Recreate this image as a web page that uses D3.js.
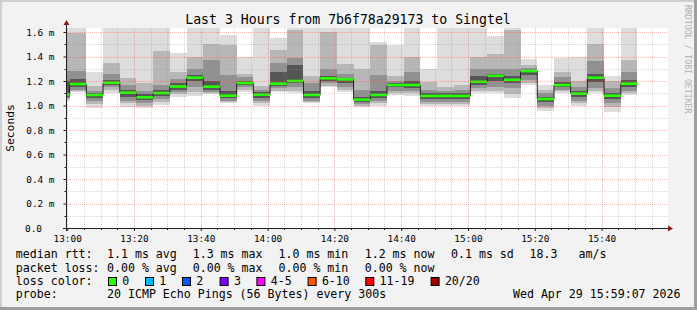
<!DOCTYPE html>
<html>
<head>
<meta charset="utf-8">
<script src="https://cdn.jsdelivr.net/npm/d3@7"></script>
<style>
  body { margin: 0; background: #fff; }
  svg text { font-family: "DejaVu Sans Mono", monospace; }
</style>
</head>
<body>
<svg id="chart" width="697" height="310"></svg>
<script>
    /*
    Smoke data, one entry per 5 minute step (first one is cut by the left edge).
    Values in milliseconds. 1.70 means "above the top of the chart".
     */
    var pingMax = [1.70, 1.70, 1.276, 1.70, 1.70, 1.70, 1.70, 1.43, 1.70, 1.70, 1.576, 1.40, 1.70, 1.55, 1.70, 1.70, 1.70, 1.70, 1.70, 1.52, 1.49, 1.70, 1.30, 1.70, 1.70, 1.70, 1.57, 1.70, 1.38, 1.167, 1.39, 1.395, 1.70, 1.24, 1.70];
    var pingHi2 = [1.59, 1.59, 1.16, 1.344, 1.227, 1.18, 1.445, 1.27, 1.40, 1.50, 1.49, 1.26, 1.16, 1.45, 1.62, 1.24, 1.60, 1.34, 1.30, 1.49, 1.24, 1.40, 1.19, 1.15, 1.17, 1.40, 1.42, 1.62, 1.33, 1.13, 1.27, 1.20, 1.50, 1.20, 1.37];
    var pingHi3 = [1.28, 1.28, 1.12, 1.26, 1.17, 1.12, 1.17, 1.22, 1.30, 1.37, 1.25, 1.23, 1.13, 1.35, 1.39, 1.18, 1.30, 1.26, 1.13, 1.25, 1.20, 1.27, 1.13, 1.12, 1.13, 1.30, 1.30, 1.30, 1.31, 1.10, 1.23, 1.15, 1.36, 1.14, 1.27];
    var pingHi4 = [1.20, 1.22, 1.10, 1.21, 1.13, 1.09, 1.13, 1.18, 1.25, 1.20, 1.12, 1.20, 1.11, 1.27, 1.33, 1.12, 1.24, 1.22, 1.07, 1.12, 1.18, 1.20, 1.10, 1.10, 1.10, 1.24, 1.26, 1.24, 1.29, 1.07, 1.19, 1.12, 1.26, 1.10, 1.21];
    var medianRtt = [1.09, 1.175, 1.086, 1.186, 1.105, 1.067, 1.102, 1.155, 1.227, 1.154, 1.08, 1.184, 1.088, 1.178, 1.20, 1.086, 1.222, 1.213, 1.048, 1.086, 1.167, 1.167, 1.078, 1.078, 1.078, 1.194, 1.243, 1.21, 1.281, 1.053, 1.167, 1.097, 1.227, 1.08, 1.178];
    var pingLo4 = [1.07, 1.15, 1.06, 1.17, 1.07, 1.045, 1.08, 1.13, 1.20, 1.13, 1.06, 1.17, 1.06, 1.16, 1.18, 1.06, 1.20, 1.18, 1.03, 1.06, 1.15, 1.14, 1.05, 1.05, 1.05, 1.17, 1.20, 1.18, 1.25, 1.03, 1.15, 1.07, 1.19, 1.05, 1.15];
    var pingLo3 = [1.06, 1.13, 1.04, 1.15, 1.04, 1.02, 1.05, 1.11, 1.15, 1.11, 1.04, 1.15, 1.04, 1.14, 1.15, 1.04, 1.18, 1.15, 1.01, 1.04, 1.12, 1.12, 1.03, 1.03, 1.03, 1.14, 1.15, 1.14, 1.21, 1.00, 1.13, 1.04, 1.14, 1.02, 1.12];
    var pingLo2 = [1.05, 1.12, 1.01, 1.13, 1.02, 1.00, 1.03, 1.09, 1.11, 1.10, 1.03, 1.13, 1.02, 1.12, 1.12, 1.03, 1.16, 1.13, 1.00, 1.02, 1.10, 1.10, 1.01, 1.01, 1.01, 1.12, 1.12, 1.09, 1.18, 0.98, 1.12, 1.02, 1.12, 0.99, 1.10];
    var pingMin = [1.04, 1.11, 0.977, 1.10, 0.99, 0.98, 1.005, 1.07, 1.08, 1.09, 1.02, 1.11, 1.00, 1.11, 1.10, 1.02, 1.15, 1.11, 0.99, 1.00, 1.085, 1.08, 0.996, 0.996, 1.00, 1.10, 1.10, 1.06, 1.165, 0.955, 1.105, 1.00, 1.10, 0.95, 1.086];

    var yTicks = [0.0, 0.2, 0.4, 0.6, 0.8, 1.0, 1.2, 1.4, 1.6];
    var xTickLabels = ["13:00", "13:20", "13:40", "14:00", "14:20", "14:40", "15:00", "15:20", "15:40"];

    var lossLabels = ["0", "1", "2", "3", "4-5", "6-10", "11-19", "20/20"];
    var lossColors = ["#26ff00", "#00b8ff", "#0059ff", "#7e00ff", "#ff00ff", "#ff5500", "#ff0000", "#a10000"];

    var rttLegend = ["median rtt:", "1.1 ms avg", "1.3 ms max", "1.0 ms min", "1.2 ms now", "0.1 ms sd", "18.3", "am/s"];
    var lossLegend = ["packet loss:", "0.00 % avg", "0.00 % max", "0.00 % min", "0.00 % now"];

    var title = "Last 3 Hours from 7b6f78a29173 to Singtel";
    var probeText = "20 ICMP Echo Pings (56 Bytes) every 300s";
    var stampText = "Wed Apr 29 15:59:07 2026";

    var smokeColors = ["#dddddd", "#b7b7b7", "#919191", "#555555"];

    /*
    Geometry of the plot area
     */
    var plotL = 66, plotR = 668, plotT = 28, plotB = 228;
    var MIN = 60000;
    var t0 = new Date(2026, 3, 29, 13, 0, 0);
    var pxPerMin = 3.34;

    var x = d3.scaleTime()
        .domain([new Date(+t0 - 0.35 * MIN), new Date(+t0 + 179.9 * MIN)])
        .range([66, 66 + 180.25 * pxPerMin]);
    var y = d3.scaleLinear().domain([0, 200 / 122.5]).range([plotB, plotT]);

    // step start times (rrd steps are shifted a bit past the grid)
    var stepStart = d3.range(-1, pingMax.length - 1).map(function(k) {
        return new Date(+t0 + (0.75 + 5 * k) * MIN);
    });
    var stepEnd = stepStart.map(function(d) { return new Date(+d + 5 * MIN); });

    var svg = d3.select("#chart");

    // background with 3d shading
    svg.append("rect").attr("width", 697).attr("height", 310).attr("fill", "#f2f2f2");
    svg.append("rect").attr("x", 0).attr("y", 0).attr("width", 697).attr("height", 2).attr("fill", "#cfcfcf");
    svg.append("rect").attr("x", 0).attr("y", 0).attr("width", 2).attr("height", 310).attr("fill", "#cfcfcf");
    svg.append("rect").attr("x", 0).attr("y", 307).attr("width", 697).attr("height", 3).attr("fill", "#9e9e9e");
    svg.append("rect").attr("x", 694).attr("y", 0).attr("width", 3).attr("height", 310).attr("fill", "#9e9e9e");

    // canvas
    svg.append("rect").attr("x", plotL).attr("y", plotT)
        .attr("width", plotR - plotL).attr("height", plotB - plotT).attr("fill", "#ffffff");

    svg.append("clipPath").attr("id", "plotclip")
        .append("rect").attr("x", plotL).attr("y", plotT)
        .attr("width", plotR - plotL).attr("height", plotB - plotT);

    var plot = svg.append("g").attr("clip-path", "url(#plotclip)");

    // smoke layers, outer (light) first, inner (dark) last
    var layers = [[pingMax, pingMin], [pingHi2, pingLo2], [pingHi3, pingLo3], [pingHi4, pingLo4]];
    layers.forEach(function(pair, li) {
        plot.append("g").selectAll("rect")
            .data(stepStart)
            .enter().append("rect")
            .attr("x", function(d) { return x(d); })
            .attr("width", function(d, i) { return x(stepEnd[i]) - x(d); })
            .attr("y", function(d, i) { return y(pair[0][i]); })
            .attr("height", function(d, i) { return y(pair[1][i]) - y(pair[0][i]); })
            .attr("fill", smokeColors[li])
            .attr("shape-rendering", "crispEdges");
    });

    // median step line
    var stepPts = stepStart.map(function(d, i) { return [x(d), y(medianRtt[i])]; });
    stepPts.push([x(stepEnd[stepEnd.length - 1]), y(medianRtt[medianRtt.length - 1])]);
    plot.append("path")
        .attr("d", d3.line().curve(d3.curveStepAfter)(stepPts))
        .attr("fill", "none")
        .attr("stroke", "#202020")
        .attr("stroke-width", 1);

    // median band, coloured by loss (all 0 here)
    plot.append("g").selectAll("rect")
        .data(stepStart)
        .enter().append("rect")
        .attr("x", function(d) { return x(d); })
        .attr("width", function(d, i) { return x(stepEnd[i]) - x(d); })
        .attr("y", function(d, i) { return y(medianRtt[i]) - 1.3; })
        .attr("height", 2.6)
        .attr("fill", lossColors[0]);

    // grid on top of the data
    var grid = svg.append("g");
    var minorY = d3.range(1, 17).map(function(i) { return i / 10; }).filter(function(v, i) { return i % 2 === 0; });
    var minorX = d3.range(0, 36).filter(function(i) { return i % 4 !== 0; })
        .map(function(i) { return new Date(+t0 + i * 5 * MIN); });
    var majorX = d3.range(0, 9).map(function(i) { return new Date(+t0 + i * 20 * MIN); });

    grid.selectAll(".hmin").data(minorY).enter().append("line")
        .attr("x1", plotL).attr("x2", plotR)
        .attr("y1", function(d) { return Math.round(y(d)) + 0.5; })
        .attr("y2", function(d) { return Math.round(y(d)) + 0.5; })
        .attr("stroke", "rgba(143,143,143,0.35)").attr("stroke-dasharray", "1,1");
    grid.selectAll(".vmin").data(minorX).enter().append("line")
        .attr("y1", plotT).attr("y2", plotB)
        .attr("x1", function(d) { return Math.round(x(d)) + 0.5; })
        .attr("x2", function(d) { return Math.round(x(d)) + 0.5; })
        .attr("stroke", "rgba(143,143,143,0.35)").attr("stroke-dasharray", "1,1");
    grid.selectAll(".hmaj").data(yTicks.slice(1)).enter().append("line")
        .attr("x1", plotL).attr("x2", plotR)
        .attr("y1", function(d) { return Math.round(y(d)) + 0.5; })
        .attr("y2", function(d) { return Math.round(y(d)) + 0.5; })
        .attr("stroke", "rgba(222,79,79,0.4)").attr("stroke-dasharray", "1,1");
    grid.selectAll(".vmaj").data(majorX).enter().append("line")
        .attr("y1", plotT).attr("y2", plotB)
        .attr("x1", function(d) { return Math.round(x(d)) + 0.5; })
        .attr("x2", function(d) { return Math.round(x(d)) + 0.5; })
        .attr("stroke", "rgba(222,79,79,0.4)").attr("stroke-dasharray", "1,1");

    // axes with labels
    var yAxis = d3.axisLeft(y).tickValues(yTicks).tickSize(3).tickPadding(9)
        .tickFormat(function(d) { return d.toFixed(1) + (d === 0 ? "" : " m"); });
    var yg = svg.append("g").attr("transform", "translate(66.5,0)").call(yAxis);
    yg.select(".domain").remove();
    yg.selectAll("line").attr("stroke", "#1f1f1f");
    yg.selectAll("text").attr("font-size", "9.4px").attr("fill", "#000")
        .attr("font-family", "DejaVu Sans Mono");
    yg.selectAll(".tick").filter(function(d) { return d === 0; }).select("text").attr("x", -24.5);

    var xAxis = d3.axisBottom(x).tickValues(majorX).tickSize(3).tickPadding(4)
        .tickFormat(function(d, i) { return xTickLabels[i]; });
    var xg = svg.append("g").attr("transform", "translate(0,228)").call(xAxis);
    xg.select(".domain").remove();
    xg.selectAll("line").attr("stroke", "#1f1f1f");
    xg.selectAll("text").attr("font-size", "9.4px").attr("fill", "#000")
        .attr("font-family", "DejaVu Sans Mono");

    // minor ticks
    svg.append("g").selectAll("line").data(minorX).enter().append("line")
        .attr("x1", function(d) { return Math.round(x(d)) + 0.5; })
        .attr("x2", function(d) { return Math.round(x(d)) + 0.5; })
        .attr("y1", 228).attr("y2", 230).attr("stroke", "#1f1f1f");
    svg.append("g").selectAll("line").data(minorY).enter().append("line")
        .attr("y1", function(d) { return Math.round(y(d)) + 0.5; })
        .attr("y2", function(d) { return Math.round(y(d)) + 0.5; })
        .attr("x1", 64.5).attr("x2", 66.5).attr("stroke", "#1f1f1f");

    // axis lines with arrows
    svg.append("line").attr("x1", 63).attr("x2", 669).attr("y1", 228.5).attr("y2", 228.5)
        .attr("stroke", "#1f1f1f");
    svg.append("line").attr("x1", 66.5).attr("x2", 66.5).attr("y1", 231).attr("y2", 24)
        .attr("stroke", "#1f1f1f");
    svg.append("path").attr("d", "M668,225.5L673,228.5L668,231.5Z").attr("fill", "#801f1f");
    svg.append("path").attr("d", "M63.5,25L66.5,20L69.5,25Z").attr("fill", "#801f1f");

    // title
    svg.append("text").attr("x", 348).attr("y", 24).attr("text-anchor", "middle")
        .attr("font-size", "13.2px").text(title);

    // y label
    svg.append("text").attr("transform", "translate(14,128) rotate(-90)")
        .attr("text-anchor", "middle").attr("font-size", "11.3px").text("Seconds");

    // watermark
    svg.append("text").attr("transform", "translate(685,5) rotate(90)")
        .attr("font-size", "8.2px").attr("fill", "#b0b0b0").text("RRDTOOL / TOBI OETIKER");

    // legend
    var legend = svg.append("g").attr("font-size", "11.6px").attr("fill", "#000");
    var rttX = [15.8, 107, 192.7, 278.5, 364.7, 451, 529.6, 578.5];
    legend.selectAll(".rtt").data(rttLegend).enter().append("text")
        .attr("x", function(d, i) { return rttX[i]; }).attr("y", 258)
        .text(function(d) { return d; });
    legend.selectAll(".loss").data(lossLegend).enter().append("text")
        .attr("x", function(d, i) { return rttX[i]; }).attr("y", 271.5)
        .text(function(d) { return d; });
    legend.append("text").attr("x", 15.8).attr("y", 285).text("loss color:");

    var boxX = [108, 145, 182, 219.6, 256.4, 307.6, 365.3, 430.6];
    legend.selectAll(".lcbox").data(lossColors).enter().append("rect")
        .attr("x", function(d, i) { return boxX[i] + 0.5; }).attr("y", 277.5)
        .attr("width", 8).attr("height", 8)
        .attr("fill", function(d) { return d; })
        .attr("stroke", "#000").attr("stroke-width", 1);
    legend.selectAll(".lclab").data(lossLabels).enter().append("text")
        .attr("x", function(d, i) { return boxX[i] + 14.3; }).attr("y", 285)
        .text(function(d) { return d; });

    legend.append("text").attr("x", 15.8).attr("y", 298).text("probe:");
    legend.append("text").attr("x", 107).attr("y", 298).text(probeText);
    legend.append("text").attr("x", 680.5).attr("y", 298).attr("text-anchor", "end").text(stampText);
</script>
</body>
</html>
